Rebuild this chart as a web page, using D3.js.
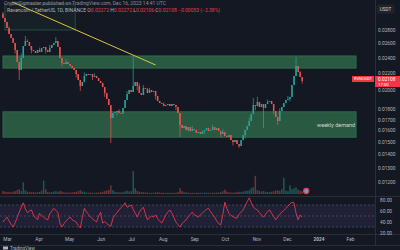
<!DOCTYPE html>
<html><head><meta charset="utf-8">
<script src="https://cdn.jsdelivr.net/npm/d3@7"></script>
<style>html,body{margin:0;padding:0;background:#141823;}svg{display:block}</style>
</head><body><svg id="c" width="400" height="250"></svg>
<script>
// ---- data (2-day candles, RVN/USDT) ----
const firstOpen = 0.03070;
const closes = [
0.02997,0.02931,0.02834,0.02741,0.02680,0.02607,0.02507,0.02344,0.02242,0.02397,
0.02563,0.02636,0.02621,0.02563,0.02507,0.02493,0.02465,0.02507,0.02479,0.02535,
0.02549,0.02507,0.02479,0.02535,0.02578,0.02607,0.02636,0.02549,0.02397,0.02331,
0.02318,0.02344,0.02318,0.02292,0.02267,0.02242,0.02192,0.02120,0.02050,0.02096,
0.02168,0.02192,0.02180,0.02192,0.02156,0.02168,0.02144,0.02108,0.02085,0.02038,
0.01971,0.01906,0.01843,0.01714,0.01763,0.01773,0.01783,0.01763,0.01758,0.01813,
0.01896,0.01960,0.02005,0.01982,0.02050,0.02096,0.02050,0.01971,0.01950,0.02027,
0.02020,0.01971,0.02005,0.01982,0.01994,0.01939,0.01885,0.01864,0.01854,0.01833,
0.01843,0.01854,0.01833,0.01854,0.01843,0.01823,0.01763,0.01649,0.01621,0.01639,
0.01603,0.01630,0.01594,0.01612,0.01603,0.01577,0.01585,0.01568,0.01594,0.01603,
0.01621,0.01594,0.01603,0.01630,0.01603,0.01621,0.01594,0.01568,0.01585,0.01550,
0.01542,0.01559,0.01516,0.01499,0.01516,0.01483,0.01466,0.01516,0.01559,0.01603,
0.01639,0.01686,0.01753,0.01843,0.01833,0.01875,0.01823,0.01854,0.01813,0.01854,
0.01875,0.01885,0.01854,0.01783,0.01724,0.01686,0.01783,0.01823,0.01864,0.01896,
0.01906,0.01928,0.02061,0.02168,0.02292,0.02217,0.02156,0.02108];
const wickHighs = [[0,0.03099],[3,0.02860],[9,0.02460],[11,0.02710],[12,0.02660],[18,0.02540],[23,0.02580],
  [26,0.02695],[31,0.02380],[40,0.02210],[45,0.02200],[57,0.01800],[61,0.01990],[64,0.02424],[67,0.02080],
  [69,0.02060],[72,0.02030],[79,0.01870],[93,0.01640],[103,0.01650],[108,0.01610],[121,0.01720],
  [123,0.01917],[125,0.01930],[130,0.01900],[136,0.01810],[140,0.01940],[144,0.02410],[146,0.02230]];
const wickLows = [[6,0.02460],[8,0.02120],[14,0.02460],[21,0.02460],[29,0.02290],[36,0.02150],[38,0.01994],
  [44,0.02120],[50,0.01930],[53,0.01491],[56,0.01740],[66,0.02000],[75,0.01900],[85,0.01790],[87,0.01542],
  [91,0.01590],[99,0.01570],[107,0.01540],[113,0.01470],[116,0.01450],[119,0.01530],[124,0.01790],
  [128,0.01621],[133,0.01750],[135,0.01649],[141,0.01880],[147,0.02080]];
const volumes = [
3,2.5,2,2.2,1.8,2.4,3,4,5,3,
12,4,2.5,2,1.8,2,1.5,2,2.2,3.5,
14,5,2.2,1.8,2,2.5,3,2.4,3.2,2.6,
1.8,1.5,1.6,1.4,1.7,2,2.2,3,4,2.6,
2.4,1.6,1.4,1.5,1.3,1.2,1.5,1.6,1.8,2.4,
3,3.6,4.2,9,4,2.4,2,1.8,1.6,2,
2.8,3.4,2.6,3,24,6,3.2,2.4,2,1.8,
1.6,1.5,1.3,1.2,1.4,1.6,1.8,1.5,1.4,1.2,
1.1,1.3,1.2,1.4,1.2,1.3,2,6,3,2,
1.6,1.4,1.2,1.3,1.1,1.2,1.4,1.3,1.2,1.4,
1.5,1.3,1.2,1.4,1.3,1.5,1.6,1.8,3,4.5,
2.4,1.8,1.6,1.5,1.6,2,2.4,2.2,2.6,3,
3.5,4,6,7,19,4,3,2.6,3.2,2.4,
2.2,2,2.4,3,3.6,4,3.2,5,17,3.4,
3,9,5,6,7,4.5,3.6,3];
const rsi = [
39,44,48,41,35,30,38,47,57,66,74,63,56,59,61,52,47,43,55,51,
48,45,43,54,59,64,60,56,37,30,36,41,45,48,43,41,39,33,28,47,
64,58,53,48,45,42,39,50,57,37,40,36,34,31,45,52,56,61,65,69,
74,66,68,70,62,55,48,57,62,66,54,43,47,50,48,52,45,41,37,44,
52,57,61,55,47,39,34,30,36,40,43,49,53,57,52,50,48,52,55,59,
62,64,58,53,48,41,36,34,52,75,64,55,51,49,47,46,53,57,61,68,
76,83,74,66,63,61,56,52,48,53,58,61,55,49,43,48,53,57,60,64,
68,72,75,74,55,43,52,48];
const zones = [
  {from:new Date(2023,1,25), to:new Date(2024,1,7), top:0.02425, bottom:0.02265, label:""},
  {from:new Date(2023,1,25), to:new Date(2024,1,7), top:0.01775, bottom:0.01540, label:"weekly demand"}
];
const boxZone = {from:new Date(2023,1,27), to:new Date(2023,4,7), top:0.03241, bottom:0.02803};
const trend = [{d:new Date(2023,2,6), p:0.03278},{d:new Date(2023,6,25), p:0.02305}];
const priceTicks = [0.028,0.026,0.024,0.022,0.020,0.018,0.017,0.016,0.015,0.014,0.013,0.012];
const rsiTicks = [80,60,40,20];
const monthTicks = [new Date(2023,2,1),new Date(2023,3,1),new Date(2023,4,1),new Date(2023,5,1),new Date(2023,6,1),new Date(2023,7,1),new Date(2023,8,1),new Date(2023,9,1),new Date(2023,10,1),new Date(2023,11,1),new Date(2024,0,1),new Date(2024,1,1)];
const monthLabels = ["Mar","Apr","May","Jun","Jul","Aug","Sep","Oct","Nov","Dec","2024","Feb"];
const startDate = new Date(2023,1,25);

// ---- drawing ----
const W=400,H=250, axisX=375, paneBottom=196, rsiTop=197, rsiBottom=234;
const FONT="Roboto, 'Liberation Sans', sans-serif";
const svg = d3.select('#c');
svg.append('rect').attr('width',W).attr('height',H).attr('fill','#141823');

const x = d3.scaleTime().domain([new Date(2023,2,1), new Date(2024,1,1)]).range([7,350]);
const y = d3.scaleLog().domain([0.03,0.014]).range([17.8,154.3]);
const yR = d3.scaleLinear().domain([0,100]).range([243.5,188.5]);
const vH = d3.scaleLinear().domain([0,25]).range([0,24]);

const defs = svg.append('defs');
defs.append('clipPath').attr('id','main').append('rect').attr('x',0).attr('y',0).attr('width',axisX).attr('height',paneBottom);
defs.append('clipPath').attr('id','rsi').append('rect').attr('x',0).attr('y',rsiTop).attr('width',axisX).attr('height',rsiBottom-rsiTop);

const candles = closes.map((c,i)=>({
  d:d3.timeDay.offset(startDate,2*i), o:i?closes[i-1]:firstOpen, c, v:volumes[i], r:rsi[i]
}));
candles.forEach(k=>{k.h=Math.max(k.o,k.c); k.l=Math.min(k.o,k.c);});
wickHighs.forEach(([i,p])=>candles[i].h=Math.max(candles[i].h,p));
wickLows.forEach(([i,p])=>candles[i].l=Math.min(candles[i].l,p));

const main = svg.append('g').attr('clip-path','url(#main)');

// top-left box
main.append('rect').attr('x',x(boxZone.from)).attr('y',y(boxZone.top))
  .attr('width',x(boxZone.to)-x(boxZone.from)).attr('height',y(boxZone.bottom)-y(boxZone.top))
  .attr('fill','rgba(38,90,62,0.12)').attr('stroke','#23513b').attr('stroke-width',1);

// zones
main.selectAll('.zone').data(zones).join('rect')
  .attr('x',d=>x(d.from)).attr('y',d=>y(d.top))
  .attr('width',d=>x(d.to)-x(d.from)).attr('height',d=>y(d.bottom)-y(d.top))
  .attr('fill','#295a41').attr('stroke','#31704f').attr('stroke-width',0.8);
main.selectAll('.zl').data(zones.filter(z=>z.label)).join('text')
  .attr('x',d=>x(d.to)-39).attr('y',d=>(y(d.top)+y(d.bottom))/2+2)
  .attr('fill','#d1d4dc').attr('font-size',5.5).attr('font-family',FONT).text(d=>d.label);

// volume
main.selectAll('.vol').data(candles).join('rect')
  .attr('x',d=>x(d.d)-0.75).attr('width',1.5)
  .attr('y',d=>194-vH(d.v)).attr('height',d=>vH(d.v))
  .attr('fill',d=>d.c>=d.o?'rgba(38,166,154,0.45)':'rgba(239,83,80,0.45)');

// candles
const cg = main.append('g');
cg.selectAll('line').data(candles).join('line')
  .attr('x1',d=>x(d.d)).attr('x2',d=>x(d.d)).attr('y1',d=>y(d.h)).attr('y2',d=>y(d.l))
  .attr('stroke',d=>d.c>=d.o?'#26a69a':'#ef5350').attr('stroke-width',0.7);
cg.selectAll('rect').data(candles).join('rect')
  .attr('x',d=>x(d.d)-0.75).attr('width',1.5)
  .attr('y',d=>y(Math.max(d.o,d.c))).attr('height',d=>Math.max(0.8,Math.abs(y(d.o)-y(d.c))))
  .attr('fill',d=>d.c>=d.o?'#26a69a':'#ef5350');

// trendline
main.append('line').attr('x1',x(trend[0].d)).attr('y1',y(trend[0].p))
  .attr('x2',x(trend[1].d)).attr('y2',y(trend[1].p))
  .attr('stroke','#d8c83c').attr('stroke-width',1);

// event marker
const last = candles[candles.length-1];
svg.append('circle').attr('cx',x(d3.timeDay.offset(last.d,4))).attr('cy',191).attr('r',2.6)
  .attr('fill','#5b9cf6').attr('stroke','#f23645').attr('stroke-width',1.1);

// header text
svg.append('text').attr('x',4).attr('y',5).attr('font-size',5).attr('font-family',FONT).attr('fill','#8a8e9b')
  .text('CryptoSigmaster published on TradingView.com, Dec 16, 2023 14:41 UTC');
const hl = svg.append('text').attr('x',7).attr('y',12).attr('font-size',5).attr('font-family',FONT);
hl.append('tspan').attr('fill','#b2b5be').text('Ravencoin / TetherUS, 1D, BINANCE  ');
hl.append('tspan').attr('fill','#b2b5be').text('O');
hl.append('tspan').attr('fill','#f23645').text('0.02272 ');
hl.append('tspan').attr('fill','#b2b5be').text('H');
hl.append('tspan').attr('fill','#f23645').text('0.02272 ');
hl.append('tspan').attr('fill','#b2b5be').text('L');
hl.append('tspan').attr('fill','#f23645').text('0.02106 ');
hl.append('tspan').attr('fill','#b2b5be').text('C');
hl.append('tspan').attr('fill','#f23645').text('0.02108 −0.00053 (−2.38%)');

// RSI pane
const rg = svg.append('g').attr('clip-path','url(#rsi)');
rg.append('rect').attr('x',0).attr('width',axisX).attr('y',yR(70)).attr('height',yR(30)-yR(70)).attr('fill','rgba(126,87,194,0.12)');
rg.selectAll('.lvl').data([70,50,30]).join('line')
  .attr('x1',0).attr('x2',axisX).attr('y1',d=>yR(d)).attr('y2',d=>yR(d))
  .attr('stroke','#5d6070').attr('stroke-width',0.6).attr('stroke-dasharray','2,2');
rg.append('path').datum(candles)
  .attr('d',d3.line().x(d=>x(d.d)).y(d=>yR(d.r)))
  .attr('fill','none').attr('stroke','#e8384f').attr('stroke-width',0.9);

// separators
svg.append('line').attr('x1',0).attr('x2',W).attr('y1',paneBottom+0.5).attr('y2',paneBottom+0.5).attr('stroke','#2a2e39');
svg.append('line').attr('x1',0).attr('x2',W).attr('y1',rsiBottom+0.5).attr('y2',rsiBottom+0.5).attr('stroke','#2a2e39');
svg.append('line').attr('x1',0).attr('x2',W).attr('y1',245.5).attr('y2',245.5).attr('stroke','#2a2e39');
svg.append('line').attr('x1',axisX+0.5).attr('x2',axisX+0.5).attr('y1',0).attr('y2',245).attr('stroke','#2a2e39');

// price axis
const pa = svg.append('g').attr('transform',`translate(${axisX+2},0)`)
  .call(d3.axisRight(y).tickValues(priceTicks).tickFormat(d=>d.toFixed(5)).tickSize(0));
pa.select('.domain').remove();
pa.selectAll('text').attr('fill','#b2b5be').attr('font-size',4.8).attr('font-family',FONT).attr('x',1);

// rsi axis
const ra = svg.append('g').attr('transform',`translate(${axisX+2},0)`)
  .call(d3.axisRight(yR).tickValues(rsiTicks).tickFormat(d=>d.toFixed(2)).tickSize(0));
ra.select('.domain').remove();
ra.selectAll('text').attr('fill','#b2b5be').attr('font-size',4.8).attr('font-family',FONT).attr('x',3);

// USDT box
svg.append('rect').attr('x',377).attr('y',5).attr('width',17).attr('height',8).attr('rx',1).attr('fill','#1e222d').attr('stroke','#2a2e39').attr('stroke-width',0.5);
svg.append('text').attr('x',385.5).attr('y',10.8).attr('text-anchor','middle').attr('font-size',4.6).attr('font-family',FONT).attr('fill','#d1d4dc').text('USDT');

// current price label
const py = y(last.c);
svg.append('rect').attr('x',axisX).attr('y',py-5).attr('width',W-axisX).attr('height',11).attr('fill','#f23645');
svg.append('text').attr('x',378).attr('y',py+0.5).attr('font-size',4.8).attr('font-family',FONT).attr('fill','#fff').text(last.c.toFixed(5));
svg.append('text').attr('x',378).attr('y',py+5).attr('font-size',4.3).attr('font-family',FONT).attr('fill','#fff').text('17:50');
svg.append('rect').attr('x',352).attr('y',py-5).attr('width',22).attr('height',6).attr('fill','#f23645');
svg.append('text').attr('x',363).attr('y',py-0.6).attr('text-anchor','middle').attr('font-size',4).attr('font-family',FONT).attr('fill','#fff').text('RVNUSDT');

// time axis
const ta = svg.append('g').attr('transform','translate(0,236)')
  .call(d3.axisBottom(x).tickValues(monthTicks).tickFormat((d,i)=>monthLabels[i]).tickSize(0));
ta.select('.domain').remove();
ta.selectAll('text').attr('fill','#b2b5be').attr('font-size',4.8).attr('font-family',FONT).attr('dy','0.45em')
  .attr('font-weight',(d,i)=>monthLabels[i]==='2024'?'bold':'normal');

// logo
svg.append('rect').attr('x',3).attr('y',246.5).attr('width',5).attr('height',3).attr('fill','#b2b5be');
svg.append('text').attr('x',10).attr('y',250).attr('font-size',4.5).attr('font-family',FONT).attr('fill','#b2b5be').text('TradingView');
</script></body></html>
